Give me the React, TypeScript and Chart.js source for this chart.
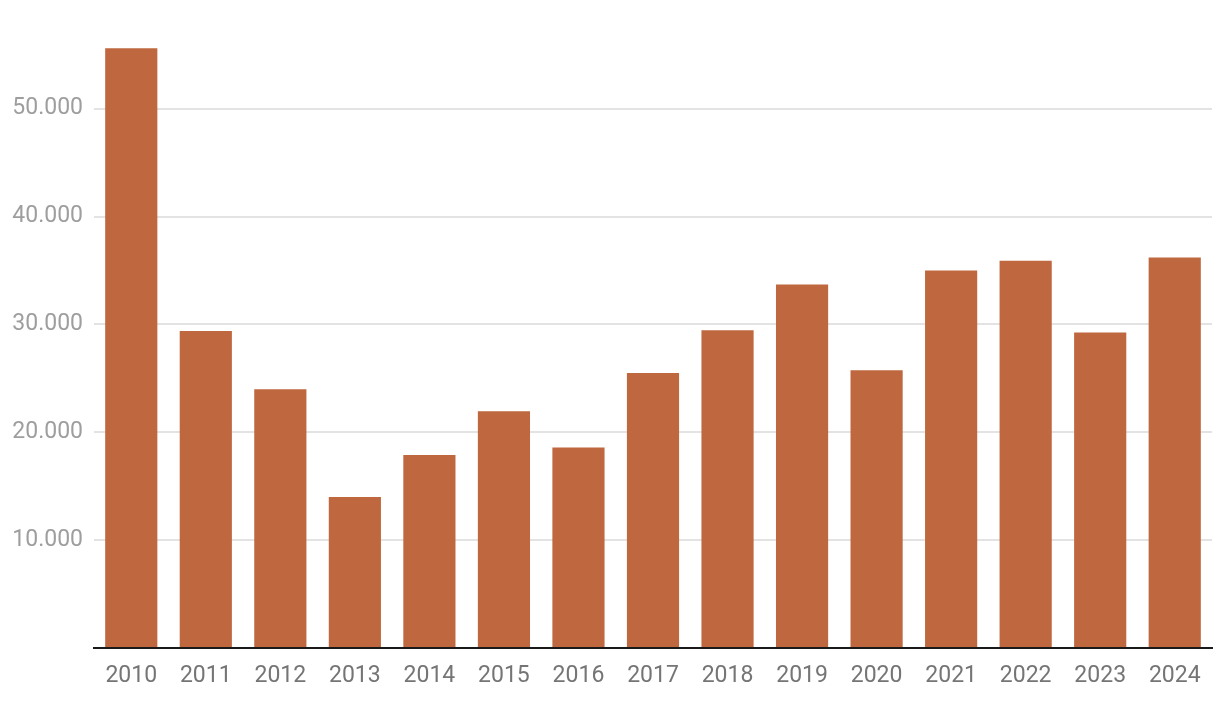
import React, { useEffect, useRef } from "react";
import { Chart, registerables } from "chart.js";

Chart.register(...registerables);

const categories = ["2010", "2011", "2012", "2013", "2014", "2015", "2016", "2017", "2018", "2019", "2020", "2021", "2022", "2023", "2024"];
const values = [55600, 29400, 24000, 14000, 17900, 21950, 18600, 25500, 29450, 33700, 25750, 35000, 35900, 29250, 36200];
const yTicks = [0, 10000, 20000, 30000, 40000, 50000];

const fmt = (v: number) => String(v).replace(/\B(?=(\d{3})+(?!\d))/g, ".");

export default function App() {
  const ref = useRef<HTMLCanvasElement>(null);
  useEffect(() => {
    if (!ref.current) return;
    const chart = new Chart(ref.current, {
      type: "bar",
      data: {
        labels: categories,
        datasets: [
          {
            data: values,
            backgroundColor: "#BF673F",
            barPercentage: 0.7,
            categoryPercentage: 1,
          },
        ],
      },
      options: {
        animation: false,
        responsive: false,
        maintainAspectRatio: false,
        layout: { padding: { top: 44, right: 8, left: 0, bottom: 0 } },
        plugins: { legend: { display: false }, tooltip: { enabled: false } },
        scales: {
          x: {
            grid: { display: false, drawTicks: false },
            border: { display: true, color: "#1a1a1a", width: 2 },
            ticks: {
              color: "#757575",
              font: { family: "Roboto", size: 23 },
              padding: 14,
              maxRotation: 0,
            },
            afterFit: (s: any) => {
              s.height = 56;
            },
          },
          y: {
            min: 0,
            max: 56000,
            afterBuildTicks: (s: any) => {
              s.ticks = yTicks.map((v) => ({ value: v }));
            },
            grid: {
              drawTicks: false,
              color: (ctx: any) => (ctx.tick && ctx.tick.value === 0 ? "rgba(0,0,0,0)" : "#e3e3e3"),
              lineWidth: 2,
            },
            border: { display: false },
            ticks: {
              color: "#9e9e9e",
              font: { family: "Roboto", size: 23 },
              padding: 11,
              callback: (v: any) => (Number(v) === 0 ? "" : fmt(Number(v))),
            },
            afterFit: (s: any) => {
              s.width = 94;
            },
          },
        },
      },
    });
    return () => chart.destroy();
  }, []);
  return (
    <div style={{ position: "absolute", left: 0, top: 0, width: 1220, height: 704, background: "#fff" }}>
      <canvas ref={ref} width={1220} height={704} style={{ width: 1220, height: 704, display: "block" }} />
    </div>
  );
}
